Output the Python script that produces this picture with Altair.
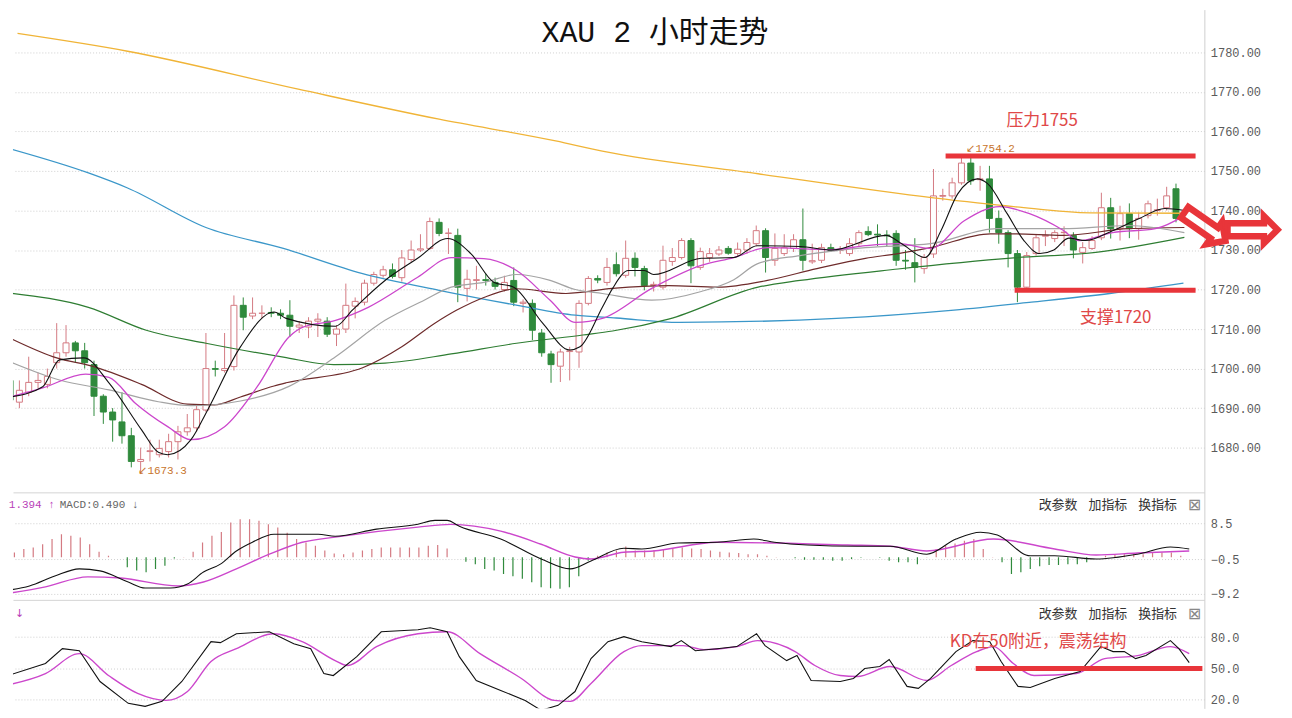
import altair as alt
import pandas as pd

# ---------------- candles (2-hour bars, index 0..125) ----------------
opens = [1697, 1691.5, 1694, 1696.5, 1696, 1701.5, 1704, 1706.5, 1704.5, 1701,
         1693, 1689, 1686.5, 1683, 1676.5, 1679, 1678.2, 1679, 1681.5, 1684,
         1685, 1689.5, 1700, 1699.5, 1700.5, 1716, 1713.3, 1714, 1714.2, 1714,
         1713.5, 1710.5, 1710.5, 1712, 1712, 1708.7, 1710, 1715.8, 1716.8, 1721.6,
         1723.6, 1725, 1723, 1727.6, 1730, 1730.4, 1737, 1734.2, 1733.7, 1720.3,
         1722.3, 1722.5, 1721.8, 1720, 1722.3, 1716.5, 1716.5, 1709, 1703.7, 1700.6,
         1704.3, 1704.2, 1716.5, 1722.8, 1721.8, 1726.3, 1723.6, 1727.9, 1725.3, 1721,
         1720.6, 1727.1, 1728.1, 1732.4, 1725.6, 1728.1, 1729, 1730.4, 1729.1, 1730,
         1731.6, 1734.9, 1727.4, 1729.1, 1730.4, 1732.6, 1727, 1727.4, 1730.6, 1729.9,
         1729.1, 1731.6, 1734.7, 1734, 1733.8, 1734.2, 1727.4, 1726.8, 1725.3, 1729,
         1743.6, 1743.7, 1747, 1752, 1747.8, 1748, 1738, 1734.4, 1729.1, 1720.6,
         1729.1, 1733.5, 1732.9, 1734.4, 1733.7, 1729.4, 1730.4, 1733.1, 1740.7, 1735.4,
         1739.2, 1735.4, 1738.7, 1740, 1740.7, 1745.5]
highs = [1700, 1697, 1703, 1699, 1700, 1711.5, 1711, 1707, 1706.5, 1702,
         1693.5, 1690, 1694, 1685, 1680, 1682, 1682, 1683.5, 1685.5, 1688.5,
         1691, 1709, 1702, 1709, 1718.5, 1718, 1718, 1716, 1715.5, 1715,
         1717.3, 1712, 1713, 1714, 1713, 1711, 1721.5, 1718, 1722.5, 1724.5,
         1726, 1726.6, 1730, 1732.4, 1734, 1738.2, 1738, 1735.5, 1735.4, 1725,
         1726, 1724, 1723, 1723.5, 1725.6, 1717.5, 1717.5, 1710, 1704.5, 1705,
         1705.5, 1717.3, 1723.4, 1723.6, 1728, 1729.4, 1732.4, 1729.4, 1726, 1722,
         1731.1, 1730.5, 1733, 1733, 1730.6, 1730.5, 1731, 1731, 1731.9, 1733,
         1736.2, 1735.5, 1734.2, 1734, 1734, 1740.5, 1731.6, 1731.6, 1731.6, 1731,
         1733, 1735, 1736, 1736.5, 1735, 1735, 1730, 1733, 1729, 1750.5,
         1745.5, 1748.3, 1753.3, 1754.2, 1751.3, 1751.3, 1740, 1735, 1730, 1729.5,
         1734, 1735, 1735, 1736, 1734.5, 1732, 1733.5, 1744.5, 1743.2, 1741.2,
         1741.8, 1739.5, 1742.5, 1743, 1746, 1746.8]
lows = [1684, 1690, 1693, 1695, 1695, 1700, 1703, 1701.5, 1700, 1688,
        1686, 1681.5, 1681, 1675, 1673.3, 1676.5, 1677.5, 1677.5, 1677, 1683,
        1684, 1689, 1698, 1699, 1699.5, 1709.7, 1712.5, 1712.7, 1713, 1712.5,
        1708, 1709, 1707.7, 1708, 1708, 1705.7, 1709, 1712.7, 1716, 1721,
        1723, 1722.8, 1722, 1727, 1729.5, 1730, 1733.5, 1729, 1716.8, 1717,
        1720, 1721, 1720, 1719.5, 1715.8, 1714.2, 1707.2, 1703, 1696.4, 1696.6,
        1697, 1700.2, 1716, 1721.6, 1721, 1723.3, 1723, 1723.3, 1719.8, 1719.5,
        1720, 1726, 1727.6, 1721.6, 1725, 1727, 1728.5, 1728.8, 1728.5, 1729,
        1731, 1724.3, 1726, 1728.5, 1729.5, 1724.8, 1726.5, 1726.7, 1729.5, 1729,
        1728.5, 1731, 1733.5, 1731, 1731, 1726, 1725, 1721.8, 1724, 1728,
        1742.5, 1743, 1746.5, 1746.5, 1745, 1734.4, 1731.6, 1725.6, 1716.8, 1720,
        1728.6, 1731, 1732, 1731, 1727.9, 1726.6, 1730, 1732.5, 1732.9, 1732.4,
        1733, 1732.6, 1738, 1738.7, 1740, 1737]
closes = [1692, 1694.5, 1696.5, 1697, 1698, 1704, 1706.5, 1704.5, 1701.5, 1693,
          1689, 1687, 1683, 1676.5, 1677, 1679.2, 1679.8, 1681.5, 1684, 1685,
          1689.6, 1700, 1699.8, 1700, 1716, 1713, 1714, 1714, 1714, 1713.5,
          1710.7, 1711, 1712, 1712.5, 1708.7, 1710, 1716, 1717, 1721.6, 1723.8,
          1725, 1723.3, 1728, 1730, 1730.3, 1737.2, 1734.2, 1734.3, 1720.6, 1722.6,
          1722.5, 1722.3, 1720.8, 1721.8, 1716.8, 1716.8, 1709.7, 1704, 1701, 1704.2,
          1704.5, 1716.5, 1722.8, 1722.4, 1725.6, 1724, 1727.9, 1725.6, 1721, 1721.3,
          1727.4, 1728.1, 1732.4, 1726, 1729.6, 1729.1, 1730, 1729.2, 1730.2, 1731.9,
          1734.9, 1728.1, 1730.4, 1730.6, 1732.6, 1727.4, 1727.3, 1730.6, 1729.9, 1730.1,
          1731.6, 1734.4, 1733.9, 1733.8, 1733.6, 1727.4, 1727.2, 1725.6, 1728.1, 1743.7,
          1743.8, 1747, 1752, 1747.5, 1748, 1738, 1734.4, 1729.1, 1720.6, 1728.6,
          1733.1, 1733.7, 1734.4, 1734.5, 1730, 1730.6, 1732.4, 1740.7, 1735.4, 1739.2,
          1735.4, 1738, 1741.7, 1740.2, 1743.7, 1738]

# ---------------- moving averages (bar index, price) ----------------
ma5_idx = [0, 3.5, 5.3, 7.9, 10.6, 14.1, 15.9, 16.9, 19.4, 21.2, 24.7, 28.3, 29.6, 34.9, 36.7,
           40.2, 43.7, 46.9, 49.4, 51.9, 54, 57.1, 60, 61.1, 63.5, 64.6, 66.3, 68, 69, 74.1,
           77.6, 80.1, 84.7, 88.1, 93.9, 95.6, 98.1, 99.8, 101.6, 103.7, 104.8, 106.9, 108.7,
           110.4, 111.9, 113.5, 115.3, 118.2, 121, 123.8, 125.9]
ma5_val = [1692.8, 1695.4, 1702.2, 1702.7, 1696.4, 1684.5, 1678.8, 1678.2, 1682, 1689.6,
           1705.5, 1714.3, 1712.7, 1710.7, 1714.8, 1722.3, 1727.9, 1732.9, 1729.1, 1721.8,
           1720.6, 1711.5, 1704.7, 1705.5, 1715.5, 1720.3, 1724.8, 1724.8, 1723.8, 1727.9,
           1728.1, 1731.1, 1730.9, 1730, 1733.7, 1731.6, 1728.1, 1734.9, 1744.2, 1748,
           1746.8, 1739.2, 1732.4, 1729.1, 1730, 1733, 1732.4, 1734.9, 1737.9, 1740.5, 1740]
ma10_idx = [0, 3.5, 8.1, 10.6, 13.4, 16.9, 19.4, 23, 26.5, 29.9, 31.4, 34.9, 38.4, 43.7, 47.3,
            50.8, 54.3, 57.9, 60.6, 63.5, 68.8, 74.1, 77.6, 81.2, 88.1, 91.7, 95.2, 98.7,
            102.3, 106.1, 109.3, 112.9, 114.6, 118.2, 122.8, 125.9]
ma10_val = [1692.8, 1695.1, 1698.6, 1697.8, 1691.3, 1685.3, 1682, 1685.3, 1695.4, 1708,
            1710.5, 1712.2, 1715.5, 1723.1, 1728.1, 1727.8, 1724.8, 1717.3, 1711.7, 1712.7,
            1720.3, 1726.1, 1728.1, 1730.6, 1730.1, 1731.1, 1731.6, 1730.4, 1737.4, 1741,
            1739.2, 1735, 1732.4, 1734.4, 1735.4, 1738.7]
ma20_idx = [0, 5.3, 10.6, 15.9, 19.4, 24.7, 29.9, 34.9, 40.2, 44.4, 47.3, 50.8, 54.3, 57.9,
            60.6, 63.5, 68.8, 74.1, 77.6, 80.1, 84.7, 91.7, 98.7, 105.8, 112.9, 119.9, 125.9]
ma20_val = [1701.7, 1697.1, 1694.6, 1691.6, 1690.6, 1691.8, 1695.5, 1703, 1712.2, 1717.3,
            1720.6, 1721.8, 1723.8, 1722.3, 1720, 1719, 1717.3, 1719.5, 1722.5, 1726.5,
            1728.6, 1730.6, 1731.6, 1735.4, 1735.4, 1736.2, 1734.4]
ma30_idx = [0, 5, 8.8, 14.1, 19, 21.9, 24.7, 28.3, 29.6, 37.8, 42, 45.5, 47.9, 50.8, 54.3,
            59.6, 64.6, 70.6, 75.9, 81.2, 86.5, 91.7, 95.2, 98.7, 105.1, 107.6, 112.9, 119.9, 125.9]
ma30_val = [1707.7, 1702.7, 1700.6, 1696, 1691, 1690.8, 1692.8, 1695.6, 1696.4, 1700.2,
            1705.5, 1711.4, 1714.8, 1718, 1720.2, 1719, 1720.3, 1721, 1720.6, 1722.3,
            1725.3, 1727.9, 1729.1, 1730.6, 1734.1, 1734.1, 1733.7, 1735.4, 1735.7]
ma60_idx = [0, 8.4, 14.6, 21, 29.3, 34.7, 40.2, 47.3, 54.3, 61.4, 64.6, 70.6, 80.2, 84.7,
            95.2, 107.6, 116.4, 125.9]
ma60_val = [1719.1, 1715.5, 1709.7, 1706.4, 1702.9, 1701, 1701.4, 1703.7, 1706.4, 1708.5,
            1709.5, 1712.5, 1720.6, 1722.3, 1725.2, 1728, 1729.4, 1733.2]
ma120_idx = [0, 8.4, 12.6, 21, 29.3, 37.7, 46, 54.4, 60.6, 65, 71.8, 88.6, 101.2, 109.5, 117.9, 125.8]
ma120_val = [1755.6, 1749.5, 1745.7, 1735.7, 1730.4, 1724.1, 1719.8, 1716, 1713.5, 1712.8,
             1711.7, 1712.7, 1714.8, 1716.8, 1719, 1721.6]
ma250_idx = [0.8, 12.6, 30.9, 46, 58.5, 63.5, 80.2, 99, 107.6, 115.8, 125.9]
ma250_val = [1784.8, 1780.3, 1770.7, 1763.1, 1757.6, 1755, 1749.3, 1743.2, 1741, 1739.4, 1739.3]

# ---------------- MACD ----------------
macd_hist = [0.8, 1.25, 2.1, 2.5, 3.3, 4.6, 5.8, 5.4, 5.0, 3.3,
             1.4, 0.4, 0.05, -2.5, -3.3, -3.75, -2.9, -2.1, -0.3, 0.1,
             1.4, 3.75, 5.4, 6.4, 8.75, 9.6, 9.6, 9.2, 8.3, 7.5,
             6.2, 4.6, 3.75, 2.9, 1.7, 1.0, 0.8, 1.25, 1.7, 2.1,
             2.5, 2.5, 2.5, 2.5, 2.5, 2.9, 3.1, 2.25, 0.05, -1.1,
             -1.7, -2.9, -3.3, -4.2, -4.75, -5.4, -6.25, -7.5, -7.75, -7.9,
             -7.5, -4.75, -0.85, 0.4, 1.25, 1.7, 2.75, 1.7, 1.7, 1.8,
             2.1, 2.25, 2.5, 2.25, 2.1, 1.7, 1.4, 1.25, 1.1, 0.8,
             0.8, 0.4, 0.1, 0.05, -0.25, -0.6, -0.6, -0.6, -0.85, -0.85,
             -0.4, -0.1, 0.05, -0.1, -0.85, -1.25, -1.25, -1.7, 0.1, 2.1,
             2.9, 3.5, 4.2, 4.6, 2.1, 0.1, -1.25, -4.2, -3.75, -2.9,
             -2.25, -1.9, -1.9, -1.7, -1.7, -1.25, 0.05, 0.4, 0.6, 0.8,
             0.8, 0.8, 1.25, 1.25, 1.25, 0.4]
dif_idx = [0, 2.6, 5.3, 7.9, 10.1, 13.1, 14.9, 17.6, 19.4, 21.1, 22.9, 24.6, 26.3, 28.6, 33.3,
           35.1, 39.5, 43.9, 45.7, 47, 48.3, 52.7, 57, 60.1, 62.3, 65.8, 67.7, 71.6, 75.7, 79.6,
           81.8, 85.3, 90.6, 94.1, 98, 101.1, 103.7, 105.5, 109, 111.6, 116, 120.4, 123.9, 125.9]
dif_val = [-8.35, -7.2, -4.7, -2.9, -3.4, -6.2, -7.7, -7.7, -6.7, -3.7, -1.7, 1.6, 3.8, 5.8, 5.8,
           5.3, 7.1, 8.3, 9.3, 9.3, 7.8, 4.6, -0.4, -2.9, -0.9, 2.3, 2.1, 3.6, 3.8, 4.6,
           3.8, 3.1, 2.8, 2.8, 0.8, 4.6, 6.3, 5.6, 0.4, 0.4, -0.4, 0.8, 2.6, 2.1]
dea_idx = [0, 4.3, 8.8, 12.3, 18.4, 21.1, 24.6, 28.1, 31.6, 35.1, 43.9, 47.4, 52.7, 57, 60.6,
           62.3, 65.8, 68.9, 75.7, 89.6, 94.1, 98, 105.1, 111.6, 116, 120.4, 125.9]
dea_val = [-9.2, -7.4, -4.9, -5.2, -7.2, -6.2, -2.9, 0.8, 3.8, 5.1, 7.6, 8.3, 6.6, 3.3, 0.1,
           -0.4, 1.3, 1.6, 3.8, 3.1, 2.8, 1.6, 4.6, 2.1, 0.6, 1.1, 1.6]

# ---------------- KD ----------------
k_idx = [0, 4.3, 6.1, 7.9, 10.1, 13.1, 14.9, 16.7, 18.8, 21.9, 22.9, 24.6, 28.1, 30.7, 32.5,
         33.9, 34.9, 37.4, 40, 43.9, 45.2, 47, 48.3, 50.1, 52.7, 55.3, 57, 58.8, 60.6, 62.3,
         64.1, 65.8, 67.7, 70.8, 71.9, 73.4, 75.7, 77.8, 79.9, 80.8, 83.1, 84.2, 85.7, 88.8,
         90.2, 91.4, 93, 94, 95.9, 97.1, 98.4, 101.1, 102.9, 104.7, 105.9, 107.7, 109, 111.6,
         114.3, 116.5, 117.8, 119, 120.2, 121.3, 123.9, 124.8, 125.9]
k_val = [42.4, 54.8, 69, 67, 37.6, 16.7, 13.8, 18.6, 37.6, 75.7, 74.8, 83.3, 85.2, 73.8, 69,
         45.2, 43.3, 61.4, 85.2, 87.1, 89, 85.2, 61.4, 38.6, 29, 19.5, 10, 14.8, 28, 59.5,
         75.7, 80.5, 75.7, 71, 76.7, 67, 69, 71, 83.3, 71.9, 57.6, 62.4, 38.6, 37.6,
         40.5, 50, 51.9, 58.6, 32.9, 31, 40.5, 66.2, 76.7, 75.7, 56.7, 32.9, 31.9, 40.5,
         47.1, 71, 66.2, 66.2, 59.5, 62.4, 76.7, 69, 55.7]
d_idx = [0, 4.3, 7.9, 11, 14.1, 17.1, 19.4, 21.9, 24.6, 28.6, 31.6, 35.1, 36.4, 39.5, 43.9,
         47, 50.5, 54.9, 58.4, 60.1, 62.3, 65.8, 67.7, 72.1, 74.3, 77.8, 80, 84, 86.1, 88.8,
         90.6, 94.1, 98, 100.6, 103.3, 105.1, 107.2, 109.4, 113.9, 116.9, 120.4, 123.9, 125.9]
d_val = [33.8, 45.2, 64.3, 43.3, 26.2, 19.5, 28, 56.7, 69, 83.3, 75.7, 57.6, 52.9, 71, 83.3,
         85.2, 64.3, 40.5, 19.5, 18.6, 35.7, 66.2, 71.9, 71.9, 68.1, 71, 76.7, 66.2, 52.9, 43.3,
         42.4, 51.9, 38.6, 52.9, 66.2, 71, 54.8, 43.3, 45.2, 59.5, 62.4, 71, 64.3]

# annotation levels (as drawn)
resist_level, resist_from, resist_to = 1753.8, 100.3, 127.1
support_level, support_from, support_to = 1719.8, 107.7, 127.1
kd_level, kd_from, kd_to = 50, 103.2, 127.3
price_ticks = list(range(1680, 1781, 10))
macd_ticks = [8.5, -0.5, -9.2]
kd_ticks = [80, 50, 20]

# ---------------- styling ----------------
UP = "#d47a82"
DOWN = "#2f8a3c"
RED = "#e8353a"
MAG = "#cc47cc"
CJK = "Noto Sans CJK SC"
MONO = "Liberation Mono"
W = 1197
X_DOM = [0.847, 127.51]


def xenc(field="i", domain=True):
    return alt.X(f"{field}:Q", scale=alt.Scale(domain=X_DOM, nice=False, zero=False),
                 axis=alt.Axis(labels=False, ticks=False, grid=False, domain=domain,
                               domainColor="#d4d4d4", title=None))


def yenc(field, dom, ticks, fmt):
    return alt.Y(f"{field}:Q", scale=alt.Scale(domain=dom, nice=False, zero=False),
                 axis=alt.Axis(orient="right", values=ticks, format=fmt, title=None,
                               ticks=False, labelFont=MONO, labelFontSize=12,
                               labelColor="#5a5a5a", labelPadding=6,
                               domainColor="#cfcfcf", gridColor="#cfcfcf",
                               gridDash=[1, 2], gridWidth=1))


def line(idx, vals, color, width, ydom, ticks, fmt, interp="monotone", xdomain=True):
    df = pd.DataFrame({"i": idx, "v": vals})
    return alt.Chart(df).mark_line(color=color, strokeWidth=width, clip=True,
                                   interpolate=interp).encode(
        x=xenc(domain=xdomain), y=yenc("v", ydom, ticks, fmt))


def note(txt, x, y, **kw):
    return alt.Chart(pd.DataFrame({"t": [txt]})).mark_text(**kw).encode(
        x=alt.value(x), y=alt.value(y), text="t:N")


def menu(y):
    return [
        note("改参数", 1050, y, font=CJK, fontSize=13, color="#333", align="center", baseline="middle"),
        note("加指标", 1100, y, font=CJK, fontSize=13, color="#333", align="center", baseline="middle"),
        note("换指标", 1150, y, font=CJK, fontSize=13, color="#333", align="center", baseline="middle"),
        note("⊠", 1187, y, font="DejaVu Sans", fontSize=16, color="#888", align="center", baseline="middle"),
    ]


# ---------------- main panel ----------------
P_DOM = [1668.67, 1790.83]
PF = ".2f"
n = len(opens)
cdf = pd.DataFrame({"i": list(range(n)), "open": opens, "high": highs,
                    "low": lows, "close": closes})
cdf["dir"] = ["up" if c >= o else "down" for o, c in zip(opens, closes)]

wicks = alt.Chart(cdf).mark_rule(strokeWidth=1, clip=True).encode(
    x=xenc(), y=yenc("low", P_DOM, price_ticks, PF), y2="high:Q",
    color=alt.Color("dir:N", scale=alt.Scale(domain=["up", "down"], range=[UP, DOWN]), legend=None))
bodies = alt.Chart(cdf).mark_bar(size=6, strokeWidth=1, clip=True).encode(
    x=xenc(), y=yenc("open", P_DOM, price_ticks, PF), y2="close:Q",
    fill=alt.Fill("dir:N", scale=alt.Scale(domain=["up", "down"], range=["#ffffff", DOWN]), legend=None),
    stroke=alt.Stroke("dir:N", scale=alt.Scale(domain=["up", "down"], range=[UP, DOWN]), legend=None))

ma_layers = [
    line(ma250_idx, ma250_val, "#f0b437", 1.3, P_DOM, price_ticks, PF),
    line(ma120_idx, ma120_val, "#3b97c9", 1.3, P_DOM, price_ticks, PF),
    line(ma60_idx, ma60_val, "#2e7d32", 1.2, P_DOM, price_ticks, PF),
    line(ma30_idx, ma30_val, "#6e2b2b", 1.2, P_DOM, price_ticks, PF),
    line(ma20_idx, ma20_val, "#a4a4a4", 1.2, P_DOM, price_ticks, PF),
    line(ma10_idx, ma10_val, MAG, 1.3, P_DOM, price_ticks, PF),
    line(ma5_idx, ma5_val, "#111111", 1.1, P_DOM, price_ticks, PF),
]

lvl = pd.DataFrame({"i": [resist_from, support_from], "i2": [resist_to, support_to],
                    "v": [resist_level, support_level]})
levels = alt.Chart(lvl).mark_rule(color=RED, strokeWidth=5).encode(
    x=xenc(), x2="i2:Q", y=yenc("v", P_DOM, price_ticks, PF))

main_notes = [
    note("XAU 2 小时走势", 645, 24, font=f"{MONO}, {CJK}", fontSize=30, color="#111",
         align="center", baseline="middle"),
    note("压力1755", 1034, 112, font=CJK, fontSize=17, color="#e04848",
         align="center", baseline="middle"),
    note("支撑1720", 1108, 310, font=CJK, fontSize=17, color="#e04848",
         align="center", baseline="middle"),
    note("↙1754.2", 958, 140, font=MONO, fontSize=11, color="#c8742c",
         align="left", baseline="middle"),
    note("↙1673.3", 126, 464, font=MONO, fontSize=11, color="#c8742c",
         align="left", baseline="middle"),
    note("⇨", 1198, 219, font="DejaVu Sans", fontSize=72, color=RED, stroke=RED,
         strokeWidth=3, angle=35, align="center", baseline="middle"),
    note("⇨", 1246, 221, font="DejaVu Sans", fontSize=72, color=RED, stroke=RED,
         strokeWidth=3, align="center", baseline="middle"),
]

main = alt.layer(wicks, bodies, *ma_layers, levels, *main_notes).properties(width=W, height=485)

# ---------------- MACD panel ----------------
M_DOM = [-10.68, 16.33]
MF = ".1f"
hdf = pd.DataFrame({"i": list(range(len(macd_hist))), "v": macd_hist,
                    "z": [0] * len(macd_hist)})
hdf["sgn"] = ["p" if v >= 0 else "n" for v in macd_hist]
hist = alt.Chart(hdf).mark_rule(strokeWidth=1.2, clip=True).encode(
    x=xenc(), y=yenc("z", M_DOM, macd_ticks, MF), y2="v:Q",
    color=alt.Color("sgn:N", scale=alt.Scale(domain=["p", "n"], range=["#c8666a", "#45984a"]), legend=None))

macd_notes = [
    note("1.394 ↑", 42, 13, font=MONO, fontSize=11, color="#b840b8", align="right", baseline="middle"),
    note("MACD:0.490 ↓", 47, 13, font=MONO, fontSize=11, color="#666", align="left", baseline="middle"),
] + menu(13)
macd = alt.layer(
    hist,
    line(dea_idx, dea_val, MAG, 1.4, M_DOM, macd_ticks, MF),
    line(dif_idx, dif_val, "#111111", 1.1, M_DOM, macd_ticks, MF),
    *macd_notes,
).properties(width=W, height=108)

# ---------------- KD panel ----------------
K_DOM = [11.9, 115.71]
kdl = pd.DataFrame({"i": [kd_from], "i2": [kd_to], "v": [kd_level]})
kd_rule = alt.Chart(kdl).mark_rule(color=RED, strokeWidth=5).encode(
    x=xenc(domain=False), x2="i2:Q", y=yenc("v", K_DOM, kd_ticks, MF))

kd_notes = [
    note("↓", 2, 14, font="DejaVu Sans", fontSize=11, color="#b840b8", align="left", baseline="middle"),
    note("KD在50附近，震荡结构", 1030, 42, font=CJK, fontSize=17, color="#e04848",
         align="center", baseline="middle"),
] + menu(14)
kd = alt.layer(
    line(d_idx, d_val, MAG, 1.4, K_DOM, kd_ticks, MF, interp="monotone", xdomain=False),
    line(k_idx, k_val, "#111111", 1.1, K_DOM, kd_ticks, MF, interp="linear", xdomain=False),
    kd_rule,
    *kd_notes,
).properties(width=W, height=109)

chart = alt.vconcat(main, macd, kd, spacing=0, bounds="flush").resolve_scale(
    x="independent", y="independent").properties(padding=0).configure_view(stroke=None)

chart.save("out.html", embed_options={"renderer": "svg", "actions": False})
